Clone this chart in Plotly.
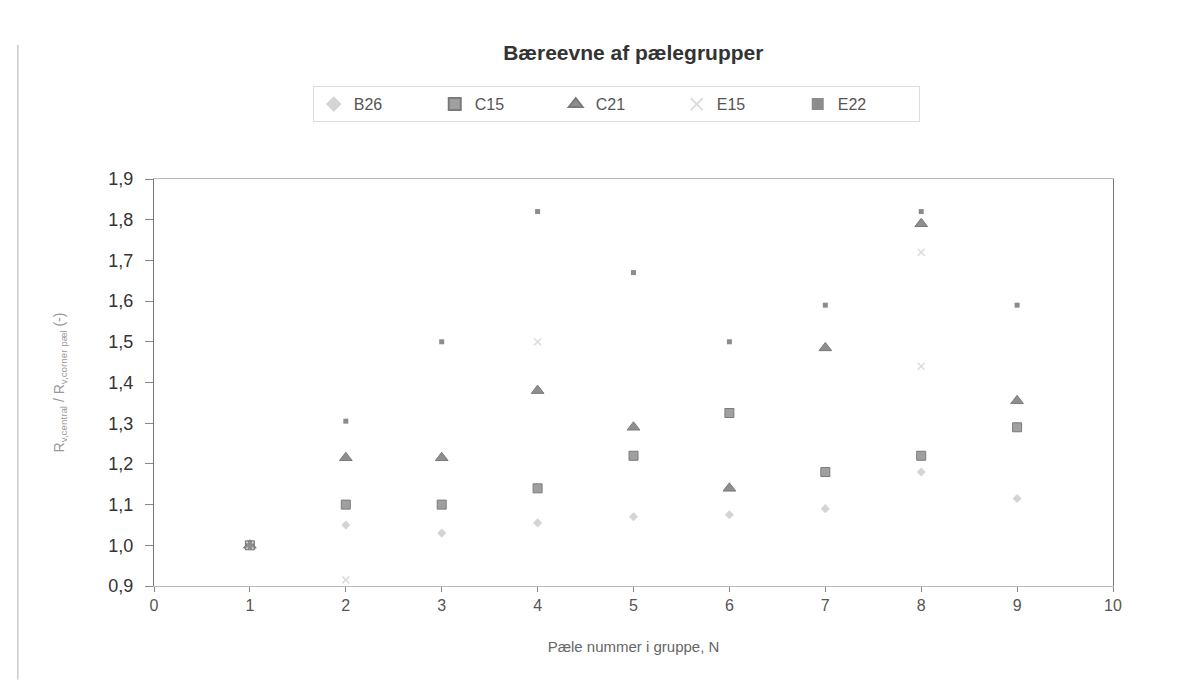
import plotly.graph_objects as go

pile_n = [1, 2, 3, 4, 5, 6, 7, 8, 9]

b26 = [1.00, 1.05, 1.03, 1.055, 1.07, 1.075, 1.09, 1.18, 1.115]
c15 = [1.00, 1.10, 1.10, 1.14, 1.22, 1.325, 1.18, 1.22, 1.29]
c21 = [1.00, 1.215, 1.215, 1.38, 1.29, 1.14, 1.485, 1.79, 1.355]
e15_x = [1, 2, 4, 8, 8]
e15 = [1.00, 0.915, 1.50, 1.44, 1.72]
e22 = [1.00, 1.305, 1.50, 1.82, 1.67, 1.50, 1.59, 1.82, 1.59]

x_ticks = [0, 1, 2, 3, 4, 5, 6, 7, 8, 9, 10]
y_ticks = [0.9, 1.0, 1.1, 1.2, 1.3, 1.4, 1.5, 1.6, 1.7, 1.8, 1.9]
y_tick_text = [f"{v:.1f}".replace(".", ",") for v in y_ticks]

font = "Liberation Sans, Arial, sans-serif"

fig = go.Figure()
fig.add_trace(go.Scatter(x=pile_n, y=b26, mode="markers", name="B26",
                         marker=dict(symbol="diamond", size=7, color="#d4d4d4")))
fig.add_trace(go.Scatter(x=pile_n, y=c15, mode="markers", name="C15",
                         marker=dict(symbol="square", size=9, color="#a0a0a0",
                                     line=dict(color="#7a7a7a", width=1))))
fig.add_trace(go.Scatter(x=pile_n, y=c21, mode="markers", name="C21",
                         marker=dict(symbol="triangle-up", size=11, color="#8e8e8e",
                                     line=dict(color="#7a7a7a", width=1))))
fig.add_trace(go.Scatter(x=e15_x, y=e15, mode="markers", name="E15",
                         marker=dict(symbol="x-thin-open", size=7, color="#dcdcdc",
                                     line=dict(color="#dcdcdc", width=1.5))))
fig.add_trace(go.Scatter(x=pile_n, y=e22, mode="markers", name="E22",
                         marker=dict(symbol="square", size=5, color="#8c8c8c")))

fig.update_layout(
    width=1191, height=684,
    paper_bgcolor="white", plot_bgcolor="white",
    margin=dict(l=146, r=86, t=171, b=106),
    font=dict(family=font, color="#555", size=15),
    title=dict(text="<b>Bæreevne af pælegrupper</b>", x=0.525, xanchor="center",
               y=0.935, yanchor="middle",
               font=dict(size=21, color="#333", family=font)),
    showlegend=True,
    legend=dict(orientation="h", x=0.482, xanchor="center", y=1.228, yanchor="top",
                bordercolor="#dddddd", borderwidth=1, font=dict(size=16, color="#555"),
                entrywidth=76, itemsizing="constant", itemwidth=30),
    xaxis=dict(range=[0, 10], tickvals=x_ticks, showgrid=False, zeroline=False,
               showline=True, linecolor="#bbbbbb", linewidth=1, mirror=True,
               ticks="outside", ticklen=5, tickcolor="#888",
               tickfont=dict(size=16, color="#555"),
               title=dict(text="Pæle nummer i gruppe, N", font=dict(size=15, color="#666"),
                          standoff=28)),
    yaxis=dict(range=[0.9, 1.9], tickvals=y_ticks, ticktext=y_tick_text,
               showgrid=False, zeroline=False,
               showline=True, linecolor="#bbbbbb", linewidth=1, mirror=True,
               ticks="outside", ticklen=8, tickcolor="#888", ticklabelstandoff=8,
               tickfont=dict(size=18, color="#333"),
               title=dict(text="R<sub>v,central</sub> / R<sub>v,corner pæl</sub> (-)",
                          font=dict(size=14, color="#999"), standoff=40)),
)
fig.update_yaxes(linecolor="#777")

fig.add_shape(type="line", xref="paper", yref="paper", x0=-0.142, x1=-0.142,
              y0=-0.23, y1=1.33, line=dict(color="#cccccc", width=1.5))

fig.write_html("out.html")
